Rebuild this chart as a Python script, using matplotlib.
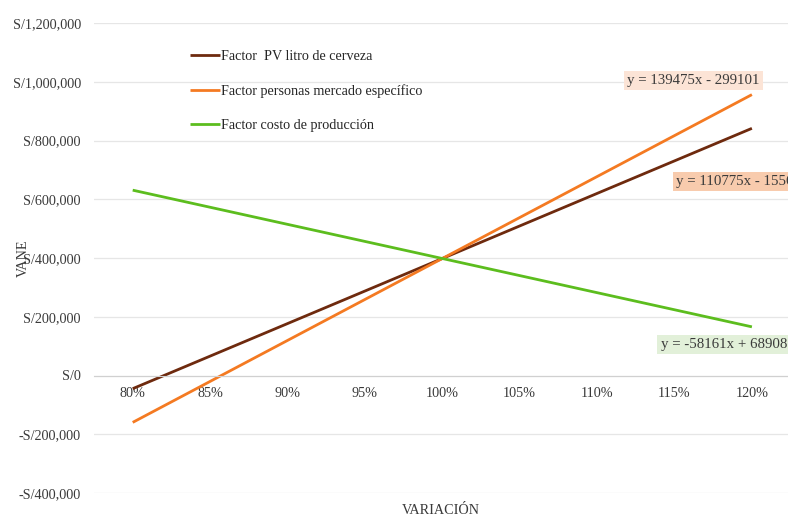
import numpy as np
import matplotlib
matplotlib.use('Agg')
import matplotlib.pyplot as plt
from matplotlib.ticker import FuncFormatter

plt.rcParams['font.family'] = ['Liberation Serif', 'DejaVu Serif']

# categorias del eje X
variacion = ['80%', '85%', '90%', '95%', '100%', '105%', '110%', '115%', '120%']

# VANE por factor
vane_pv = [-44826, 65949, 176724, 287499, 398274, 509049, 619824, 730599, 841374]
vane_personas = [-159626, -20151, 119324, 258799, 398274, 537749, 677224, 816699, 956174]
vane_costo = [630919, 572758, 514597, 456436, 398275, 340114, 281953, 223792, 165631]

etiquetas = ['Factor  PV litro de cerveza', 'Factor personas mercado específico',
             'Factor costo de producción']
ecuaciones = ['y = 110775x - 155601', 'y = 139475x - 299101', 'y = -58161x + 689080']

c_pv = '#6e2a0e'
c_personas = '#f47a22'
c_costo = '#5cbd1e'
txt = '#3a3a3a'
fs = 10.2
fs_eq = 10.7

fig = plt.figure(figsize=(7.88, 5.18), dpi=100)
ax = fig.add_axes([94 / 788, 25 / 518, 694 / 788, 470 / 518])

x = np.arange(len(variacion))
ax.plot(x, vane_pv, color=c_pv, lw=2, label=etiquetas[0], solid_capstyle='butt')
ax.plot(x, vane_personas, color=c_personas, lw=2, label=etiquetas[1], solid_capstyle='butt')
ax.plot(x, vane_costo, color=c_costo, lw=2, label=etiquetas[2], solid_capstyle='butt')

ax.set_xlim(-0.5, -0.5 + 694 / 77.4)
ax.set_ylim(-400000, 1200000)
ax.set_yticks(np.arange(-400000, 1200001, 200000))
ax.set_xticks(x)
ax.set_xticklabels(variacion)


def fmt(v, pos):
    if v < 0:
        return '-S/{:,.0f}'.format(-v)
    return 'S/{:,.0f}'.format(v)


ax.yaxis.set_major_formatter(FuncFormatter(fmt))
ax.grid(axis='y', color='#e6e6e6', lw=0.9)
ax.set_axisbelow(True)
for s in ['top', 'right', 'left']:
    ax.spines[s].set_visible(False)
ax.spines['bottom'].set_position(('data', 0))
ax.spines['bottom'].set_color('#d0d0d0')
ax.tick_params(axis='both', length=0, labelsize=fs, labelcolor=txt)
ax.tick_params(axis='y', pad=9.4)
ax.tick_params(axis='x', pad=8.5)

ax.set_ylabel('VANE', fontsize=fs, color=txt)
ax.yaxis.set_label_coords(-0.092, 0.5)
ax.set_xlabel('VARIACIÓN', fontsize=fs, color=txt)
ax.xaxis.set_label_coords(0.5, -0.038)
ax.xaxis.label.set_va('center')

leg = ax.legend(loc='upper left', bbox_to_anchor=(0.12, 0.97), frameon=False,
                fontsize=fs, handlelength=2.1, handletextpad=0.1, labelspacing=1.5)
for t in leg.get_texts():
    t.set_color('#262626')

# ecuaciones de las lineas de tendencia
ax.text(6.386, 1004000, ecuaciones[1], fontsize=fs_eq, color=txt, ha='left', va='center',
        bbox=dict(boxstyle='square,pad=0.22', fc='#fce4d6', ec='none'), clip_on=False)
ax.text(7.02, 660000, ecuaciones[0], fontsize=fs_eq, color=txt, ha='left', va='center',
        bbox=dict(boxstyle='square,pad=0.22', fc='#f8cbad', ec='none'), clip_on=False)
ax.text(6.82, 105500, ecuaciones[2], fontsize=fs_eq, color=txt, ha='left', va='center',
        bbox=dict(boxstyle='square,pad=0.22', fc='#e2f0d9', ec='none'), clip_on=False)

fig.savefig('out.png', dpi=100)
